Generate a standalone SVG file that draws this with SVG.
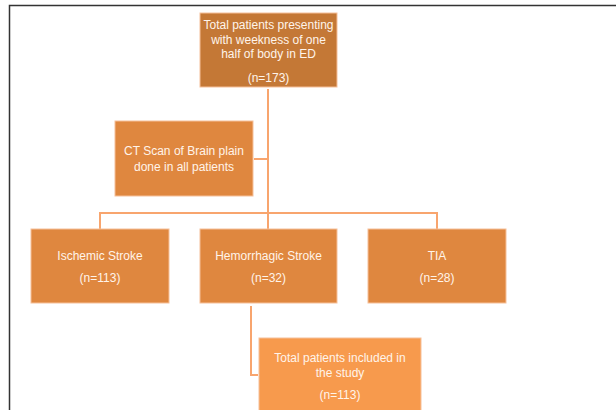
<svg xmlns="http://www.w3.org/2000/svg" width="616" height="410" viewBox="0 0 616 410">
<style>
.box{stroke:#F6C09A;stroke-width:1}
.t{font-family:"Liberation Sans",Arial,sans-serif;font-size:12px;fill:#FFF4EA;text-anchor:middle}
.c{fill:none;stroke:#F8A56E;stroke-width:2}
</style>
<rect width="616" height="410" fill="#FFFFFF"/>
<path d="M9.5,410 V5.5 H616" fill="none" stroke="#333333" stroke-width="1.5"/>
<g id="connectors">
<path class="c" d="M268,89 V213"/>
<path class="c" d="M254,159 H268"/>
<path class="c" d="M100,229 V213 H437 V229"/>
<path class="c" d="M268,213 V229"/>
<path class="c" d="M251,306 V375 H258"/>
</g>
<g id="top">
<rect class="box" x="200" y="13" width="137" height="74" fill="#C47836"/>
<text class="t" x="268.5" y="28.5">Total patients presenting</text>
<text class="t" x="268.5" y="43.5">with weekness of one</text>
<text class="t" x="268.5" y="57.5">half of body in ED</text>
<text class="t" x="268.5" y="81.5">(n=173)</text>
</g>
<g id="ct">
<rect class="box" x="115" y="121" width="138" height="75" fill="#DF873F"/>
<text class="t" x="184" y="154.5">CT Scan of Brain plain</text>
<text class="t" x="184" y="170.5">done in all patients</text>
</g>
<g id="ischemic">
<rect class="box" x="31" y="229" width="138" height="74" fill="#DF873F"/>
<text class="t" x="100" y="259.5">Ischemic Stroke</text>
<text class="t" x="100" y="281.5">(n=113)</text>
</g>
<g id="hemorrhagic">
<rect class="box" x="200" y="229" width="137" height="74" fill="#DF873F"/>
<text class="t" x="268.5" y="259.5">Hemorrhagic Stroke</text>
<text class="t" x="268.5" y="281.5">(n=32)</text>
</g>
<g id="tia">
<rect class="box" x="368" y="229" width="138" height="74" fill="#DF873F"/>
<text class="t" x="437" y="259.5">TIA</text>
<text class="t" x="437" y="281.5">(n=28)</text>
</g>
<g id="included">
<rect class="box" x="259" y="338" width="162" height="80" fill="#F79A4D"/>
<text class="t" x="340" y="361.5">Total patients included in</text>
<text class="t" x="340" y="376.5">the study</text>
<text class="t" x="340" y="398.5">(n=113)</text>
</g>
</svg>
